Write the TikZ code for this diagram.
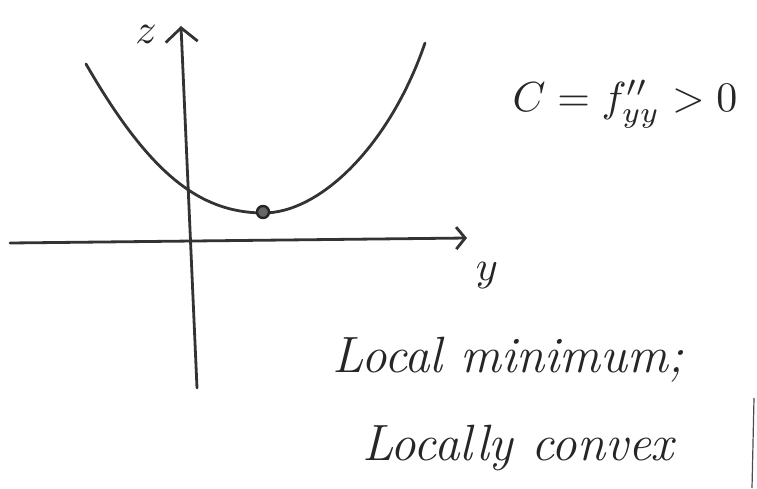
\documentclass[tikz,border=0pt]{standalone}
\usepackage{amsmath}
\usetikzlibrary{arrows.meta,positioning}

\newcommand{\bigmath}[1]{\scalebox{4.2}{$#1$}}

\begin{document}
\begin{tikzpicture}[
    x=1pt, y=-1pt,
    pen/.style={line width=2.8pt, draw=black!80, line cap=round, line join=round},
    haxis/.style={pen, -{Straight Barb[length=9pt,width=22pt]}},
    vaxis/.style={pen, -{Straight Barb[length=14pt,width=32pt]}},
    hand/.style={font=\fontsize{51}{60}\selectfont\itshape, text=black!85, inner sep=0pt},
    sym/.style={text=black!85, inner sep=0pt}
]
\useasboundingbox (0,0) rectangle (757,488);
\coordinate (yleft) at (10,243);
\coordinate (yright) at (467,238);
\coordinate (zbottom) at (197,388);
\coordinate (ztop) at (181,26);
\draw[haxis] (yleft) -- (yright);
\draw[vaxis] (zbottom) -- (ztop);
\node[sym] (ylab) at (487,276) {\bigmath{y}};
\node[sym] (zlab) at (146,34) {\bigmath{z}};
% the curve and its lowest point
\draw[pen] (86,64) .. controls (150,175) and (200,212) .. (262,213)
    .. controls (320,214) and (390,145) .. (425,43);
\node[circle, draw=black!85, fill=black!60, line width=2.4pt, inner sep=0pt, minimum size=12pt] (minpt) at (263,212) {};
\node[sym] (cond) at (625,104) {\bigmath{C = f''_{yy} > 0}};
\node[hand] (line1) at (508,360) {Local minimum;};
\node[hand] (line2) at (518,448) {Locally convex};
\coordinate (edgetop) at (754,398);
\coordinate (edgebot) at (752,488);
\draw[black!70, line width=1.2pt] (edgetop) -- (edgebot);
\end{tikzpicture}
\end{document}
